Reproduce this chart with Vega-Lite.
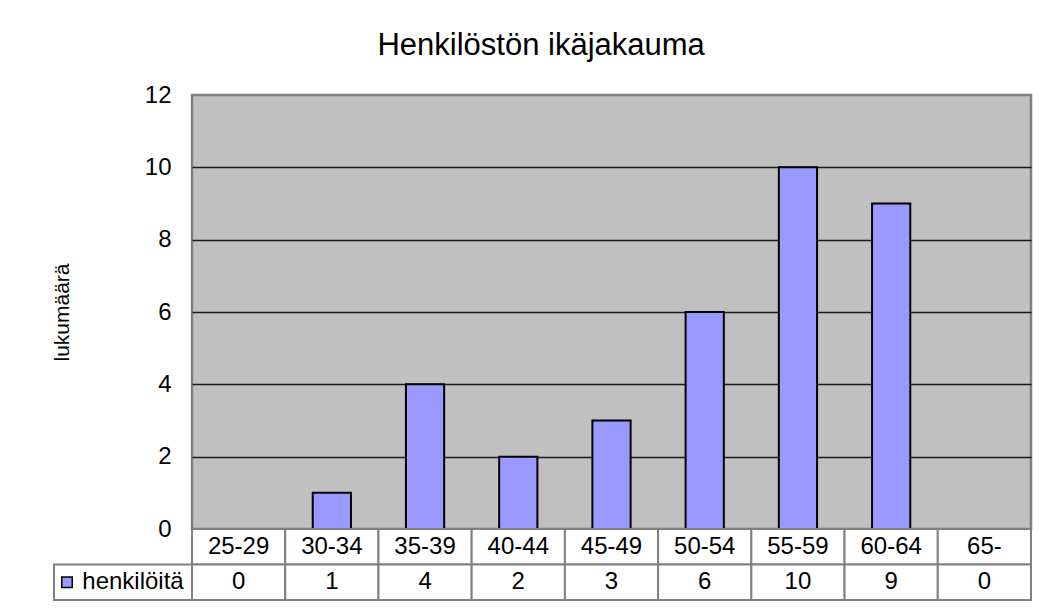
{
  "$schema": "https://vega.github.io/schema/vega-lite/v6.json",
  "padding": {"left": 50, "top": 29, "right": 10, "bottom": 0},
  "background": "white",
  "config": {"font": "Liberation Sans", "view": {"stroke": null}},
  "title": {"text": "Henkilöstön ikäjakauma", "fontSize": 31, "fontWeight": "normal", "color": "black", "anchor": "middle", "offset": 20},
  "data": {"values": [
    {"age": "25-29", "n": 0},
    {"age": "30-34", "n": 1},
    {"age": "35-39", "n": 4},
    {"age": "40-44", "n": 2},
    {"age": "45-49", "n": 3},
    {"age": "50-54", "n": 6},
    {"age": "55-59", "n": 10},
    {"age": "60-64", "n": 9},
    {"age": "65-", "n": 0}
  ]},
  "columns": 2,
  "spacing": 0,
  "bounds": "flush",
  "concat": [
    {
      "width": 138,
      "height": 434,
      "data": {"values": []},
      "mark": "point"
    },
    {
      "width": 839,
      "height": 434,
      "view": {"fill": "#C0C0C0", "stroke": "#808080", "strokeWidth": 2.5},
      "transform": [{"filter": "datum.n > 0"}],
      "mark": {"type": "bar", "fill": "#9999FF", "stroke": "black", "strokeWidth": 2},
      "encoding": {
        "x": {"field": "age", "type": "ordinal", "scale": {"domain": ["25-29", "30-34", "35-39", "40-44", "45-49", "50-54", "55-59", "60-64", "65-"], "paddingInner": 0.59, "paddingOuter": 0.295}, "axis": null},
        "y": {"field": "n", "type": "quantitative", "scale": {"domain": [0, 12], "nice": false},
          "axis": {"values": [0, 2, 4, 6, 8, 10, 12], "title": "lukumäärä", "titleFontSize": 21, "titleFontWeight": "normal", "titleColor": "black", "titlePadding": 72,
            "labelFontSize": 24, "labelColor": "black", "labelPadding": 21, "ticks": false, "tickSize": 0, "domain": false,
            "grid": true, "gridColor": "#1a1a1a", "gridWidth": 1.5,
            "gridOpacity": {"condition": {"test": "datum.value == 0 || datum.value == 12", "value": 0}, "value": 1}}}
      }
    },
    {
      "width": 138,
      "height": 71,
      "data": {"values": [{"series": "henkilöitä"}]},
      "layer": [
        {"mark": {"type": "rect", "fill": "white", "stroke": "#808080", "strokeWidth": 2},
         "encoding": {"y": {"datum": "val", "type": "nominal", "scale": {"domain": ["cat", "val"], "paddingInner": 0, "paddingOuter": 0}, "axis": null}}},
        {"mark": {"type": "point", "shape": "square", "filled": true, "fill": "#9999FF", "stroke": "black", "strokeWidth": 1.5, "size": 110, "opacity": 1, "xOffset": -56},
         "encoding": {"y": {"datum": "val", "type": "nominal"}}},
        {"mark": {"type": "text", "fontSize": 24, "color": "black", "dx": 10},
         "encoding": {"y": {"datum": "val", "type": "nominal"}, "text": {"field": "series"}}}
      ]
    },
    {
      "width": 839,
      "height": 71,
      "encoding": {
        "x": {"field": "age", "type": "ordinal", "scale": {"domain": ["25-29", "30-34", "35-39", "40-44", "45-49", "50-54", "55-59", "60-64", "65-"], "paddingInner": 0, "paddingOuter": 0}, "axis": null}
      },
      "layer": [
        {"mark": {"type": "rect", "fill": "white", "stroke": "#808080", "strokeWidth": 2},
         "encoding": {"y": {"datum": "cat", "type": "nominal", "scale": {"domain": ["cat", "val"], "paddingInner": 0, "paddingOuter": 0}, "axis": null}}},
        {"mark": {"type": "rect", "fill": "white", "stroke": "#808080", "strokeWidth": 2},
         "encoding": {"y": {"datum": "val", "type": "nominal"}}},
        {"mark": {"type": "text", "fontSize": 24, "color": "black"},
         "encoding": {"y": {"datum": "cat", "type": "nominal"}, "text": {"field": "age"}}},
        {"mark": {"type": "text", "fontSize": 24, "color": "black"},
         "encoding": {"y": {"datum": "val", "type": "nominal"}, "text": {"field": "n"}}}
      ]
    }
  ]
}
